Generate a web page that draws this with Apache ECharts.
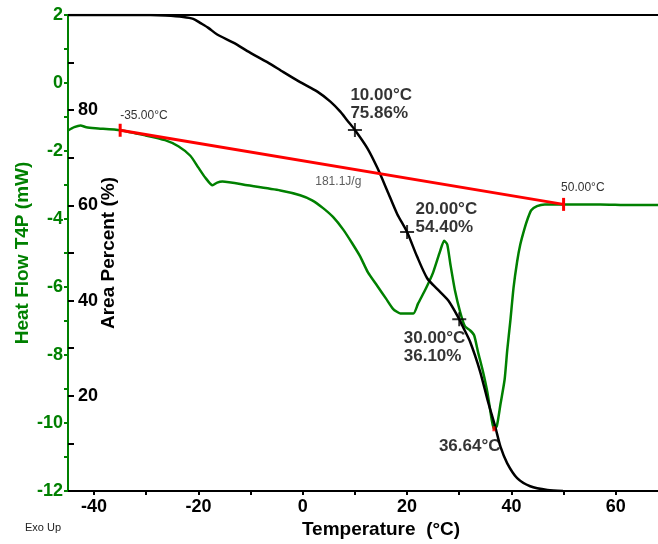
<!DOCTYPE html>
<html>
<head>
<meta charset="utf-8">
<script src="https://cdn.jsdelivr.net/npm/echarts@6/dist/echarts.min.js"></script>
<style>
html,body{margin:0;padding:0;background:#fff;}
#chart{width:658px;height:544px;}
</style>
</head>
<body>
<div id="chart"></div>
<script>
// ---- data ----
const temperatureTicks = [-40, -20, 0, 20, 40, 60];
const temperatureMinorTicks = [-40, -30, -20, -10, 0, 10, 20, 30, 40, 50, 60];
const heatFlowTicks = [-12, -10, -8, -6, -4, -2, 0, 2];
const heatFlowAllTicks = [-12, -11, -10, -9, -8, -7, -6, -5, -4, -3, -2, -1, 0, 1, 2];
const percentTicks = [20, 40, 60, 80];
const percentAllTicks = [10, 20, 30, 40, 50, 60, 70, 80, 90];

const heatFlowT = [-44.9, -43.8, -42.6, -41.5, -39.75, -35.0, -30.2, -26.4, -23.85, -21.55, -20.0, -18.7, -17.3, -16.4, -15.4, -10.6, -4.3, -0.5, 1.8, 3.9, 5.8, 7.8, 9.5, 11.0, 12.5, 14.3, 16.0, 17.3, 18.7, 21.2, 22.1, 23.65, 25.0, 26.3, 27.1, 27.7, 28.3, 29.2, 30.2, 31.1, 32.1, 32.85, 33.6, 34.6, 35.4, 36.2, 36.64, 37.2, 37.9, 38.7, 39.2, 39.8, 40.4, 41.1, 41.7, 42.5, 43.1, 43.8, 44.9, 46.4, 49.9, 57.0, 62.7, 68.1];
const heatFlowMW = [-1.39, -1.30, -1.25, -1.30, -1.33, -1.39, -1.54, -1.68, -1.86, -2.14, -2.49, -2.78, -3.01, -2.93, -2.90, -3.01, -3.16, -3.30, -3.45, -3.68, -3.94, -4.32, -4.72, -5.10, -5.57, -5.97, -6.35, -6.64, -6.78, -6.78, -6.49, -6.03, -5.57, -4.96, -4.64, -4.75, -5.33, -6.12, -6.75, -7.16, -7.28, -7.42, -7.91, -8.52, -9.10, -9.88, -10.17, -10.09, -9.45, -8.72, -7.86, -6.99, -6.03, -5.25, -4.75, -4.29, -4.00, -3.74, -3.62, -3.57, -3.57, -3.57, -3.59, -3.59];

const areaT = [-44.9, -29.2, -26.3, -22.9, -21.0, -19.6, -18.1, -16.4, -13.3, -10.1, -6.8, -3.7, -0.5, 2.8, 5.3, 7.2, 8.5, 10.0, 12.4, 14.3, 16.2, 18.1, 20.0, 21.9, 23.85, 25.8, 27.9, 30.0, 30.7, 32.1, 34.0, 35.5, 36.9, 37.9, 39.2, 41.1, 43.6, 46.9, 49.9];
const areaPct = [100, 100, 99.9, 99.6, 99.2, 98.3, 97.3, 95.9, 94.2, 92.1, 90.1, 88.0, 85.9, 83.9, 81.8, 79.7, 77.9, 75.86, 72.0, 67.9, 63.1, 58.2, 54.40, 49.3, 44.7, 42.4, 40.0, 36.10, 34.5, 31.3, 25.1, 18.8, 13.5, 9.3, 5.8, 2.7, 1.0, 0.2, 0];

const baselineT = [-35.0, 50.0];
const baselineMW = [-1.39, -3.57];
const markT = [10.0, 20.0, 30.0];
const markPct = [75.86, 54.40, 36.10];
const peakT = [36.64];
const peakMW = [-10.17];
const enthalpyText = '181.1J/g';

// ---- chart ----
const GREEN = '#008000';
const FONT = '"Liberation Sans", Arial, sans-serif';
const zip = (a, b) => a.map((v, i) => [v, b[i]]);

const markLabelPos = [[2.5, -37], [15.5, -25], [-48.5, 17]];
const baselineLabelPos = [[1.5, -8.5], [-1, -10.5]];

const chart = echarts.init(document.getElementById('chart'), null, {renderer: 'canvas'});
chart.setOption({
  animation: false,
  backgroundColor: '#fff',
  textStyle: {fontFamily: FONT},
  grid: {left: 68, right: 0, top: 15, bottom: 46},
  xAxis: [{
    type: 'value', min: -45, max: 68.1, position: 'bottom',
    name: 'Temperature  (°C)', nameLocation: 'middle', nameGap: 29, nameMoveOverlap: false,
    nameTextStyle: {color: '#000', fontWeight: 'bold', fontSize: 19, fontFamily: FONT, padding: [0, 0, 0, 36]},
    axisLine: {show: true, onZero: false, lineStyle: {color: '#000', width: 2}},
    axisTick: {show: true, customValues: temperatureMinorTicks, length: 4, lineStyle: {color: '#000', width: 2}},
    axisLabel: {customValues: temperatureTicks, color: '#000', fontWeight: 'bold', fontSize: 18, fontFamily: FONT, margin: 7},
    splitLine: {show: false}
  }, {
    type: 'value', min: -45, max: 68.1, position: 'top',
    axisLine: {show: true, onZero: false, lineStyle: {color: '#000', width: 2}},
    axisTick: {show: false}, axisLabel: {show: false}, splitLine: {show: false}
  }],
  yAxis: [{
    type: 'value', min: -12, max: 2, position: 'left',
    name: 'Heat Flow T4P (mW)', nameLocation: 'middle', nameGap: 36, nameMoveOverlap: false,
    nameTextStyle: {color: GREEN, fontWeight: 'bold', fontSize: 19, fontFamily: FONT},
    axisLine: {show: true, onZero: false, lineStyle: {color: GREEN, width: 2}},
    axisTick: {show: true, customValues: heatFlowAllTicks, length: 4, lineStyle: {color: GREEN, width: 2}},
    axisLabel: {customValues: heatFlowTicks, color: GREEN, fontWeight: 'bold', fontSize: 18, fontFamily: FONT, margin: 5},
    splitLine: {show: false}
  }, {
    type: 'value', min: 0, max: 100, position: 'left',
    name: 'Area Percent (%)', nameLocation: 'middle', nameGap: -50, nameMoveOverlap: false,
    nameTextStyle: {color: '#000', fontWeight: 'bold', fontSize: 19, fontFamily: FONT},
    axisLine: {show: false, onZero: false},
    axisTick: {show: true, inside: true, customValues: percentAllTicks, length: 6, lineStyle: {color: '#000', width: 2}},
    axisLabel: {inside: true, customValues: percentTicks, color: '#000', fontWeight: 'bold', fontSize: 18, fontFamily: FONT, margin: 10},
    splitLine: {show: false}
  }],
  graphic: [{
    type: 'text', left: 25, top: 522,
    style: {text: 'Exo Up', fontSize: 11, fontFamily: FONT, fill: '#222'}
  }],
  series: [{
    name: 'Heat Flow', type: 'line', xAxisIndex: 0, yAxisIndex: 0,
    data: zip(heatFlowT, heatFlowMW), showSymbol: false, smooth: 0.2,
    lineStyle: {color: GREEN, width: 2.5}, itemStyle: {color: GREEN}, z: 2
  }, {
    name: 'Area Percent', type: 'line', xAxisIndex: 0, yAxisIndex: 1,
    data: zip(areaT, areaPct), showSymbol: false, smooth: 0.25,
    lineStyle: {color: '#000', width: 2.5}, itemStyle: {color: '#000'}, z: 3
  }, {
    name: 'Baseline', type: 'line', xAxisIndex: 0, yAxisIndex: 0,
    data: zip(baselineT, baselineMW).map((p, i) => ({
      value: p,
      label: {show: true, position: baselineLabelPos[i], align: 'left', verticalAlign: 'middle',
        formatter: p[0].toFixed(2) + '°C', fontSize: 12, color: '#333', fontFamily: FONT, textBorderWidth: 0}
    })),
    showSymbol: true, symbol: 'rect', symbolSize: [3, 13],
    lineStyle: {color: '#ff0000', width: 3}, itemStyle: {color: '#ff0000'}, z: 4
  }, {
    name: 'Enthalpy', type: 'scatter', xAxisIndex: 0, yAxisIndex: 0,
    data: [[(baselineT[0] + baselineT[1]) / 2, (baselineMW[0] + baselineMW[1]) / 2]],
    symbolSize: 0,
    label: {show: true, position: [-26.6, 14.5], align: 'left', verticalAlign: 'middle',
      formatter: enthalpyText, fontSize: 12, color: '#333', fontFamily: FONT, textBorderWidth: 0}, z: 5
  }, {
    name: 'Marks', type: 'scatter', xAxisIndex: 0, yAxisIndex: 1,
    data: zip(markT, markPct).map((p, i) => ({
      value: p,
      label: {show: true, position: markLabelPos[i], align: 'left', verticalAlign: 'top',
        formatter: p[0].toFixed(2) + '°C\n' + p[1].toFixed(2) + '%',
        fontSize: 17, lineHeight: 18, fontWeight: 'bold', color: '#000', fontFamily: FONT, textBorderWidth: 0}
    })),
    symbol: 'path://M0,6h14v2h-14z M6,0h2v14h-2z', symbolSize: 14,
    itemStyle: {color: '#000'}, z: 6
  }, {
    name: 'Peak', type: 'scatter', xAxisIndex: 0, yAxisIndex: 0,
    data: zip(peakT, peakMW),
    symbol: 'rect', symbolSize: [3, 5], itemStyle: {color: '#ff0000'},
    label: {show: true, position: [-53.5, 20.5], align: 'left', verticalAlign: 'middle',
      formatter: (p) => p.value[0].toFixed(2) + '°C',
      fontSize: 17, fontWeight: 'bold', color: '#000', fontFamily: FONT, textBorderWidth: 0}, z: 6
  }]
});
</script>
</body>
</html>
